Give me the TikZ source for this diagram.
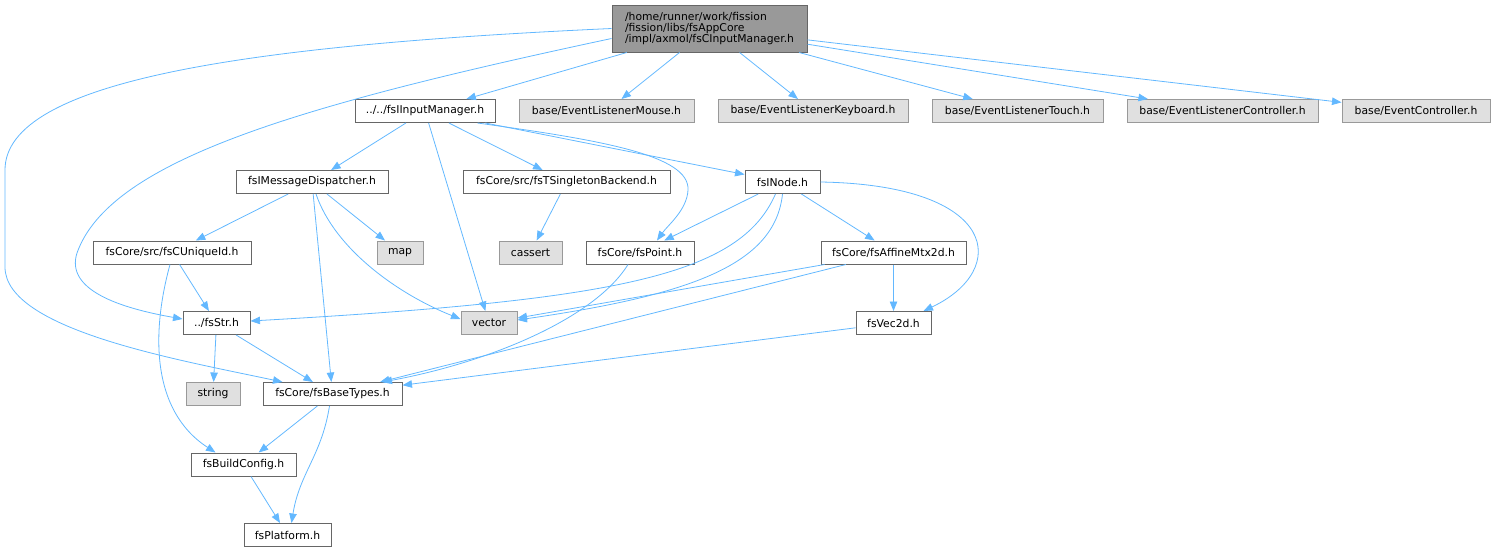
\documentclass[tikz,border=0pt]{standalone}
\usepackage{fontspec}
\setmainfont{DejaVu Sans}
\usetikzlibrary{arrows.meta}
\definecolor{edgeblue}{HTML}{63B8FF}
\definecolor{boxline}{HTML}{666666}
\definecolor{extline}{HTML}{999999}
\definecolor{extfill}{HTML}{E0E0E0}
\definecolor{rootfill}{HTML}{999999}

\begin{document}
\begin{tikzpicture}[x=1pt,y=-1pt,
    file/.style={shape=rectangle,draw=boxline,fill=white,line width=1pt,inner sep=0pt,
        minimum height=23pt,minimum width=#1,font=\fontsize{10.8}{11}\selectfont},
    sysfile/.style={file=#1,draw=extline,fill=extfill},
    dep/.style={draw=edgeblue,line width=0.8pt,-{Triangle[length=9.5pt,width=7.5pt]}}]
    \useasboundingbox (0,0) rectangle (1495,552);

    \node[file=195pt,fill=rootfill,minimum height=47pt,align=left] (root) at (709.5,28.5)
        {/home/runner/work/fission\\/fission/libs/fsAppCore\\/impl/axmol/fsCInputManager.h};
    \node[file=140pt] (inmgr) at (425,111) {../../fsIInputManager.h};
    \node[sysfile=175pt] (mouse) at (606.5,111) {base/EventListenerMouse.h};
    \node[sysfile=190pt] (keyb) at (813,111) {base/EventListenerKeyboard.h};
    \node[sysfile=171pt] (touch) at (1017.5,111) {base/EventListenerTouch.h};
    \node[sysfile=191pt] (ctrl) at (1222.5,111) {base/EventListenerController.h};
    \node[sysfile=148pt] (evctl) at (1416,111) {base/EventController.h};
    \node[file=152pt] (msgdisp) at (312,182) {fsIMessageDispatcher.h};
    \node[file=207pt] (singleton) at (566.5,182) {fsCore/src/fsTSingletonBackend.h};
    \node[file=75pt] (inode) at (782.5,182) {fsINode.h};
    \node[file=158pt] (uniqueid) at (172,252.5) {fsCore/src/fsCUniqueId.h};
    \node[sysfile=46pt] (map) at (400,252.5) {map};
    \node[sysfile=63pt] (cassert) at (530.5,252.5) {cassert};
    \node[file=108pt] (point) at (640,252.5) {fsCore/fsPoint.h};
    \node[file=145pt] (affine) at (893.5,252.5) {fsCore/fsAffineMtx2d.h};
    \node[file=67pt] (str) at (216.5,323) {../fsStr.h};
    \node[sysfile=56pt] (vector) at (489,323) {vector};
    \node[file=75pt] (vec2d) at (893.5,323) {fsVec2d.h};
    \node[sysfile=54pt] (string) at (213,394) {string};
    \node[file=139pt] (basetypes) at (332.5,394) {fsCore/fsBaseTypes.h};
    \node[file=105pt] (buildcfg) at (243.5,464.5) {fsBuildConfig.h};
    \node[file=87pt] (platform) at (287.5,535) {fsPlatform.h};

    % top file
    \path (root) edge[dep] (inmgr);
    \path (root) edge[dep] (mouse);
    \path (root) edge[dep] (keyb);
    \path (root) edge[dep] (touch);
    \path (root) edge[dep] (ctrl);
    \path (root) edge[dep] (evctl);
    \draw[dep] ([yshift=-10pt]root.west) .. controls (300,105) and (110,160) .. (77,253)
        .. controls (65,290) and (120,308) .. ([yshift=4pt]str.west);
    \draw[dep] (root.west) .. controls (250,45) and (5,80) .. (5,170) -- (5,267)
        .. controls (5,330) and (180,360) .. ([xshift=20pt]basetypes.north west);

    % input manager
    \path (inmgr) edge[dep] (msgdisp);
    \path (inmgr) edge[dep] (vector);
    \path (inmgr) edge[dep] (singleton);
    \path (inmgr) edge[dep] (inode);
    \draw[dep] ([xshift=-18pt]inmgr.south east) .. controls (600,140) and (690,155) .. (688,190)
        .. controls (687,210) and (668,225) .. ([xshift=17pt]point.north);

    % dispatcher and node
    \path (msgdisp) edge[dep] (uniqueid);
    \path (msgdisp) edge[dep] (map);
    \path (msgdisp) edge[dep] (basetypes);
    \draw[dep] ([xshift=4pt]msgdisp.south) .. controls (335,250) and (400,295) .. ([yshift=4pt]vector.west);
    \path (singleton) edge[dep] (cassert);
    \path (inode) edge[dep] (point);
    \path (inode) edge[dep] (affine);
    \draw[dep] ([xshift=-7pt]inode.south) .. controls (740,275) and (620,300) .. ([yshift=2pt]str.east);
    \draw[dep] (inode.south) .. controls (775,265) and (690,295) .. ([yshift=3pt]vector.east);
    \draw[dep] (inode.east) .. controls (1000,185) and (1010,270) .. ([xshift=-8pt]vec2d.north east);

    % lower files
    \path (uniqueid) edge[dep] (str);
    \draw[dep] ([xshift=-12pt]point.south) .. controls (595,318) and (490,362) .. ([xshift=50pt]basetypes.north);
    \draw[dep] ([xshift=-2pt]uniqueid.south) .. controls (152,330) and (150,410) .. ([xshift=-28pt]buildcfg.north);
    \path (affine) edge[dep] (vector);
    \path (affine) edge[dep] (basetypes);
    \path (affine) edge[dep] (vec2d);
    \path (str) edge[dep] (string);
    \path (str) edge[dep] (basetypes);
    \path (vec2d) edge[dep] (basetypes);
    \path (basetypes) edge[dep] (buildcfg);
    \draw[dep] ([xshift=-3pt]basetypes.south) .. controls +(-8,50) and +(8,-50) .. ([xshift=4pt]platform.north);
    \path (buildcfg) edge[dep] (platform);
\end{tikzpicture}
\end{document}
